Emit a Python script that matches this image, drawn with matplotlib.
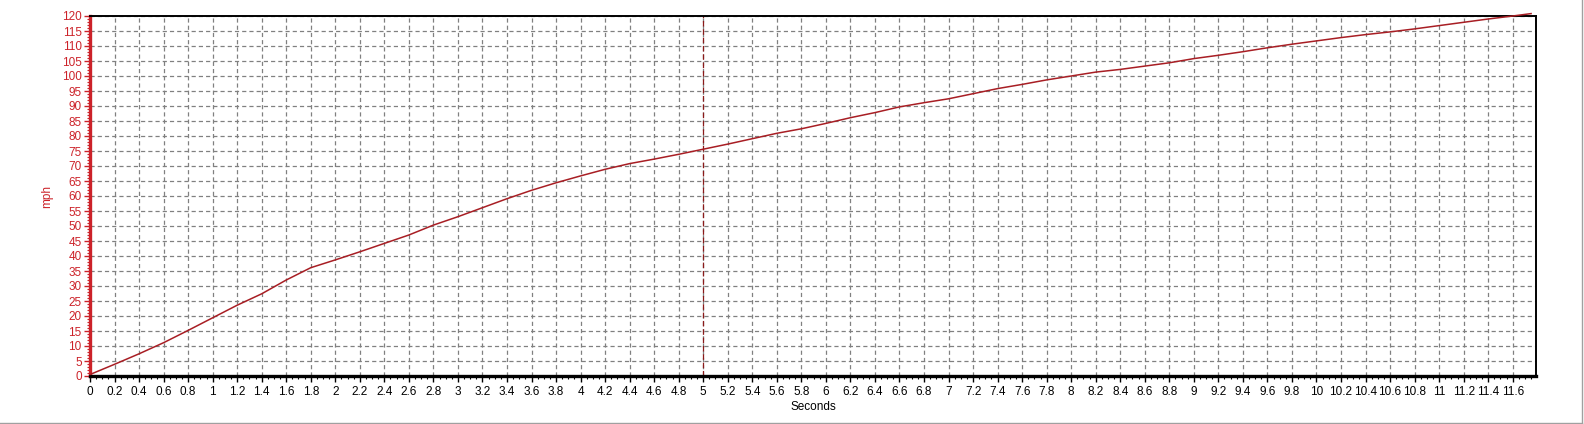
import matplotlib
matplotlib.use("Agg")
import matplotlib.pyplot as plt
from matplotlib.lines import Line2D
from matplotlib.ticker import MultipleLocator, FuncFormatter

# speed trace (seconds, mph)
seconds = [0, 0.2, 0.4, 0.6, 0.8, 1.0, 1.2, 1.4, 1.6, 1.8, 2.0, 2.2, 2.4, 2.6, 2.8,
           3.0, 3.2, 3.4, 3.6, 3.8, 4.0, 4.2, 4.4, 4.6, 4.8, 5.0, 5.2, 5.4, 5.6, 5.8,
           6.0, 6.2, 6.4, 6.6, 6.8, 7.0, 7.2, 7.4, 7.6, 7.8, 8.0, 8.2, 8.4, 8.6, 8.8,
           9.0, 9.2, 9.4, 9.6, 9.8, 10.0, 10.2, 10.4, 10.6, 10.8, 11.0, 11.2, 11.4,
           11.6, 11.75]
mph = [0.5, 3.9, 7.4, 11.1, 15.2, 19.4, 23.6, 27.4, 32.0, 36.1, 38.7, 41.4, 44.2,
       47.0, 50.3, 53.1, 56.1, 59.1, 61.9, 64.4, 66.7, 68.9, 70.8, 72.3, 73.9, 75.6,
       77.3, 79.1, 80.9, 82.4, 84.2, 86.1, 87.8, 89.7, 91.1, 92.4, 94.1, 95.8, 97.2,
       98.7, 100.0, 101.3, 102.2, 103.3, 104.4, 105.8, 106.9, 108.1, 109.4, 110.6,
       111.7, 112.8, 113.8, 114.7, 115.7, 116.8, 117.9, 119.0, 120.0, 120.8]
cursor_x = 5.0

RED = "#cc2229"
TRACE = "#a81e24"
GRID = "#808080"

plt.rcParams["font.family"] = ["Liberation Sans", "DejaVu Sans"]
plt.rcParams["lines.scale_dashes"] = False

fig = plt.figure(figsize=(15.84, 4.24), dpi=100)
ax = fig.add_axes([90 / 1584, 48 / 424, (1536 - 90) / 1584, (376 - 16) / 424])

ax.plot(seconds, mph, color=TRACE, lw=1.1, zorder=3, clip_on=False)
ax.axvline(cursor_x, color="#8b1a1a", lw=0.9, ls=(0, (4, 2)), zorder=2)

ax.set_xlim(0, 11.79)
ax.set_ylim(0, 120)

ax.xaxis.set_major_locator(MultipleLocator(0.2))
ax.xaxis.set_minor_locator(MultipleLocator(0.05))
ax.xaxis.set_major_formatter(FuncFormatter(lambda v, p: f"{round(v, 1):g}"))
ax.yaxis.set_major_locator(MultipleLocator(5))
ax.yaxis.set_minor_locator(MultipleLocator(1))

ax.grid(True, which="major", color=GRID, lw=0.9, ls=(0, (3, 2.2)))

ax.tick_params(axis="x", which="major", length=4, width=1, labelsize=8.5, pad=3, colors="black")
ax.tick_params(axis="x", which="minor", length=2, width=0.8, colors="black")
ax.tick_params(axis="y", which="major", length=4, width=1, labelsize=8.5, pad=2,
               colors=RED, labelcolor=RED)
ax.tick_params(axis="y", which="minor", length=2, width=0.8, colors=RED)

ax.spines["left"].set_color(RED)
ax.spines["left"].set_linewidth(2.4)
ax.spines["bottom"].set_color("black")
ax.spines["bottom"].set_linewidth(2.4)
ax.spines["top"].set_linewidth(1.4)
ax.spines["right"].set_linewidth(1.4)

ax.set_xlabel("Seconds", fontsize=8.5, labelpad=2)
ax.set_ylabel("mph", fontsize=8.5, color=RED, labelpad=6)

# light gray window frame along the right and bottom edges
fig.add_artist(Line2D([1582 / 1584, 1582 / 1584], [1.5 / 424, 1], color="#a0a0a0", lw=1))
fig.add_artist(Line2D([0, 1582 / 1584], [1.5 / 424, 1.5 / 424], color="#a0a0a0", lw=1))

fig.savefig("out.png", dpi=100)
